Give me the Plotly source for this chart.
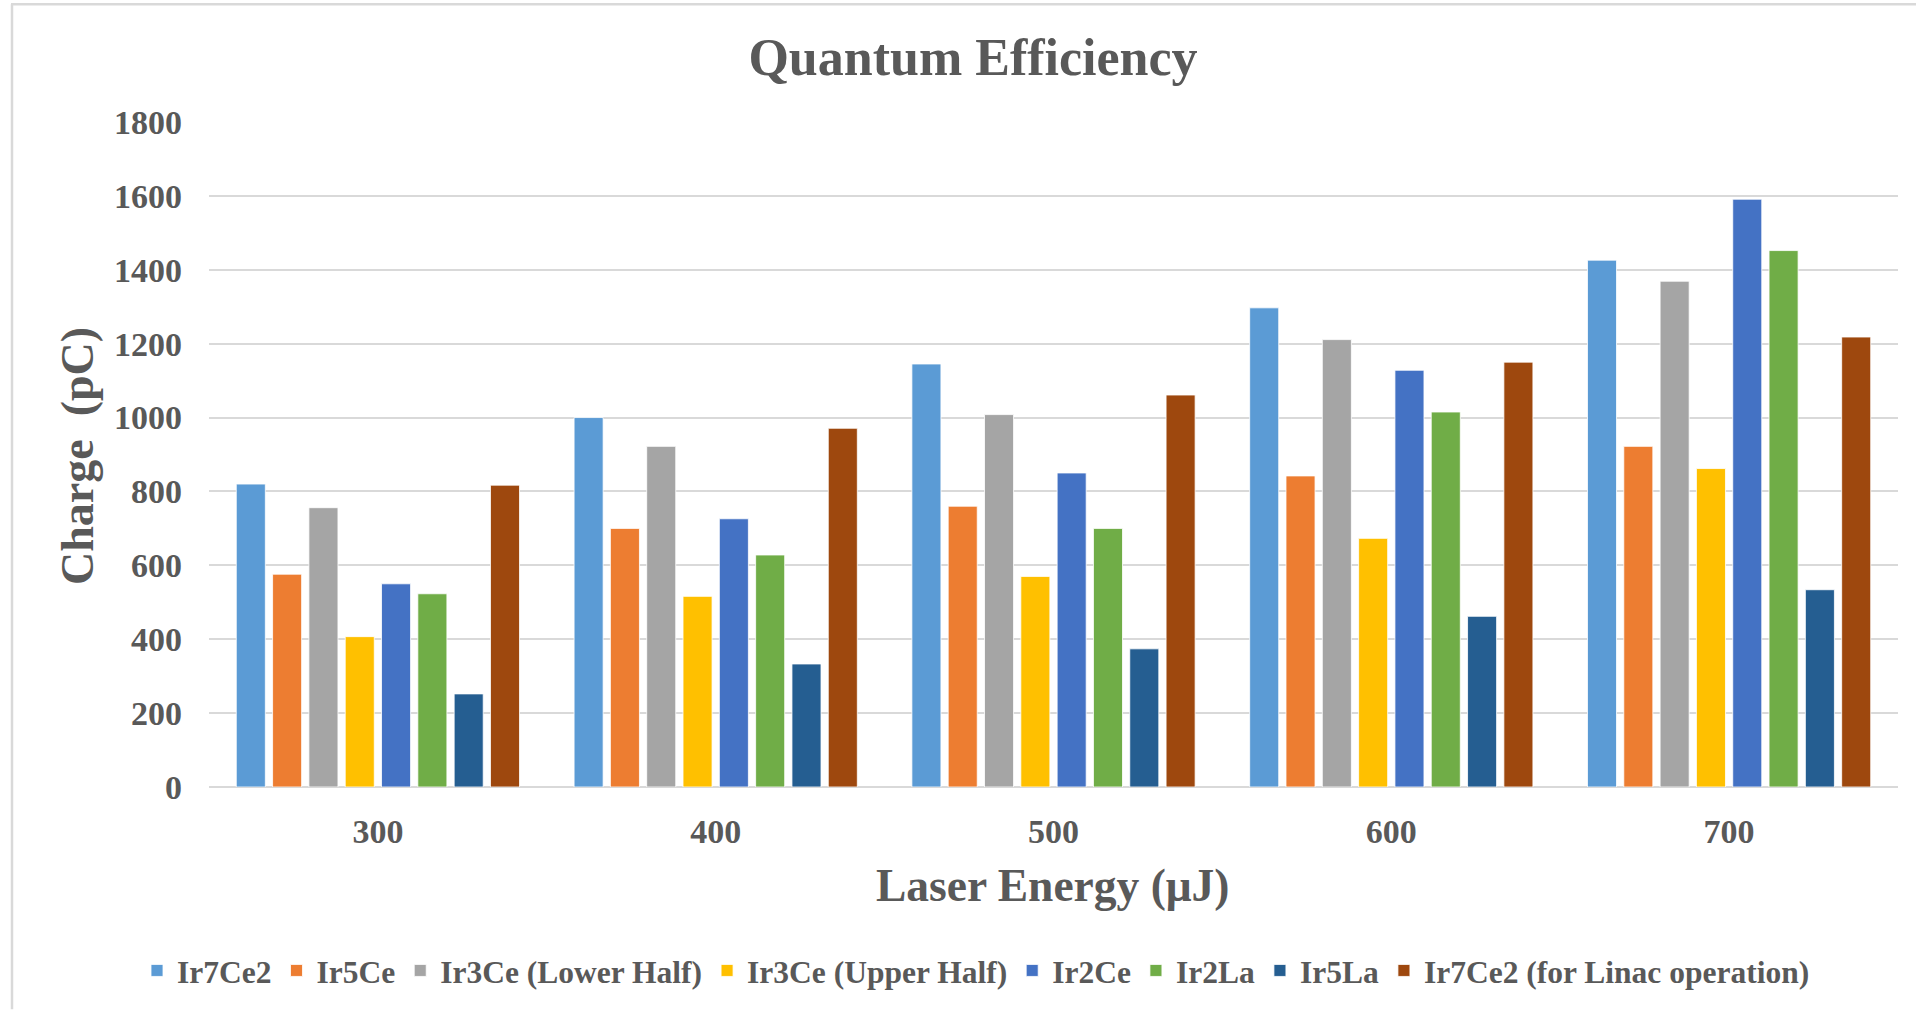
import plotly.graph_objects as go

# Laser energy settings (µJ) used as the category axis
energies = ["300", "400", "500", "600", "700"]

# Extracted charge (pC) per cathode sample
ir7ce2 = [820, 1000, 1145, 1297, 1426]
ir5ce = [576, 700, 760, 842, 922]
ir3ce_lower = [756, 922, 1008, 1211, 1369]
ir3ce_upper = [407, 516, 570, 673, 862]
ir2ce = [550, 726, 850, 1128, 1591]
ir2la = [523, 628, 700, 1015, 1452]
ir5la = [252, 333, 374, 462, 534]
ir7ce2_linac = [817, 971, 1061, 1150, 1218]

series_names = [
    "Ir7Ce2",
    "Ir5Ce",
    "Ir3Ce (Lower Half)",
    "Ir3Ce (Upper Half)",
    "Ir2Ce",
    "Ir2La",
    "Ir5La",
    "Ir7Ce2 (for Linac operation)",
]
series_values = [ir7ce2, ir5ce, ir3ce_lower, ir3ce_upper, ir2ce, ir2la, ir5la, ir7ce2_linac]
series_colors = ["#5B9BD5", "#ED7D31", "#A5A5A5", "#FFC000", "#4472C4", "#70AD47", "#255E91", "#9E480E"]

FONT = "Liberation Serif"
TEXT = "#595959"

fig = go.Figure()
for name, vals, col in zip(series_names, series_values, series_colors):
    fig.add_trace(go.Bar(
        x=energies, y=vals, name=name,
        marker=dict(color=col, line=dict(color="rgba(255,255,255,0.8)", width=1)),
    ))

# plot area geometry in pixels
W, H = 1916, 1010
L, R, T, B = 209, 18, 122, 221
pw, ph = W - L - R, H - T - B

def px_x(x):
    return (x - L) / pw

def px_y(y):
    return (H - B - y) / ph

fig.update_layout(
    width=W, height=H,
    margin=dict(l=L, r=R, t=T, b=B),
    paper_bgcolor="white", plot_bgcolor="white",
    barmode="group", bargap=0.14, bargroupgap=0.2,
    font=dict(family=FONT, color=TEXT),
    title=dict(
        text="<b>Quantum Efficiency</b>",
        x=973 / W, xref="container", xanchor="center",
        y=1 - 57 / H, yref="container", yanchor="middle",
        font=dict(family=FONT, size=52, color=TEXT),
    ),
    xaxis=dict(
        type="category",
        showgrid=False, showline=False, zeroline=False,
        ticks="", ticklabelstandoff=21,
        tickfont=dict(family=FONT, size=34, color=TEXT, weight="bold"),
    ),
    yaxis=dict(
        range=[0, 1800], dtick=200, tick0=0,
        showgrid=True, gridcolor="#D9D9D9", gridwidth=1.5,
        zeroline=True, zerolinecolor="#D9D9D9", zerolinewidth=1.6,
        showline=False, ticks="", ticklabelstandoff=26,
        tickfont=dict(family=FONT, size=34, color=TEXT, weight="bold"),
    ),
    legend=dict(
        orientation="h",
        x=px_x(976), xanchor="center",
        y=px_y(973), yanchor="middle",
        font=dict(family=FONT, size=31.5, color=TEXT, weight="bold"),
        itemwidth=30, tracegroupgap=0,
        bgcolor="rgba(0,0,0,0)",
    ),
    annotations=[
        dict(
            text="<b>Laser Energy (μJ)</b>",
            xref="paper", yref="paper",
            x=px_x(1053), y=px_y(888),
            xanchor="center", yanchor="middle", showarrow=False,
            font=dict(family=FONT, size=45.5, color=TEXT),
        ),
        dict(
            text="<b>Charge  (pC)</b>",
            xref="paper", yref="paper",
            x=px_x(78), y=px_y(457),
            xanchor="center", yanchor="middle", showarrow=False,
            textangle=-90,
            font=dict(family=FONT, size=46, color=TEXT),
        ),
    ],
    shapes=[
        # chart frame (top and left edges)
        dict(type="line", xref="paper", yref="paper",
             x0=px_x(11), x1=px_x(1916), y0=px_y(4), y1=px_y(4),
             line=dict(color="#D9D9D9", width=2.5)),
        dict(type="line", xref="paper", yref="paper",
             x0=px_x(12), x1=px_x(12), y0=px_y(4), y1=px_y(1012),
             line=dict(color="#D9D9D9", width=2.5)),
    ],
)

fig.write_html("out.html")
